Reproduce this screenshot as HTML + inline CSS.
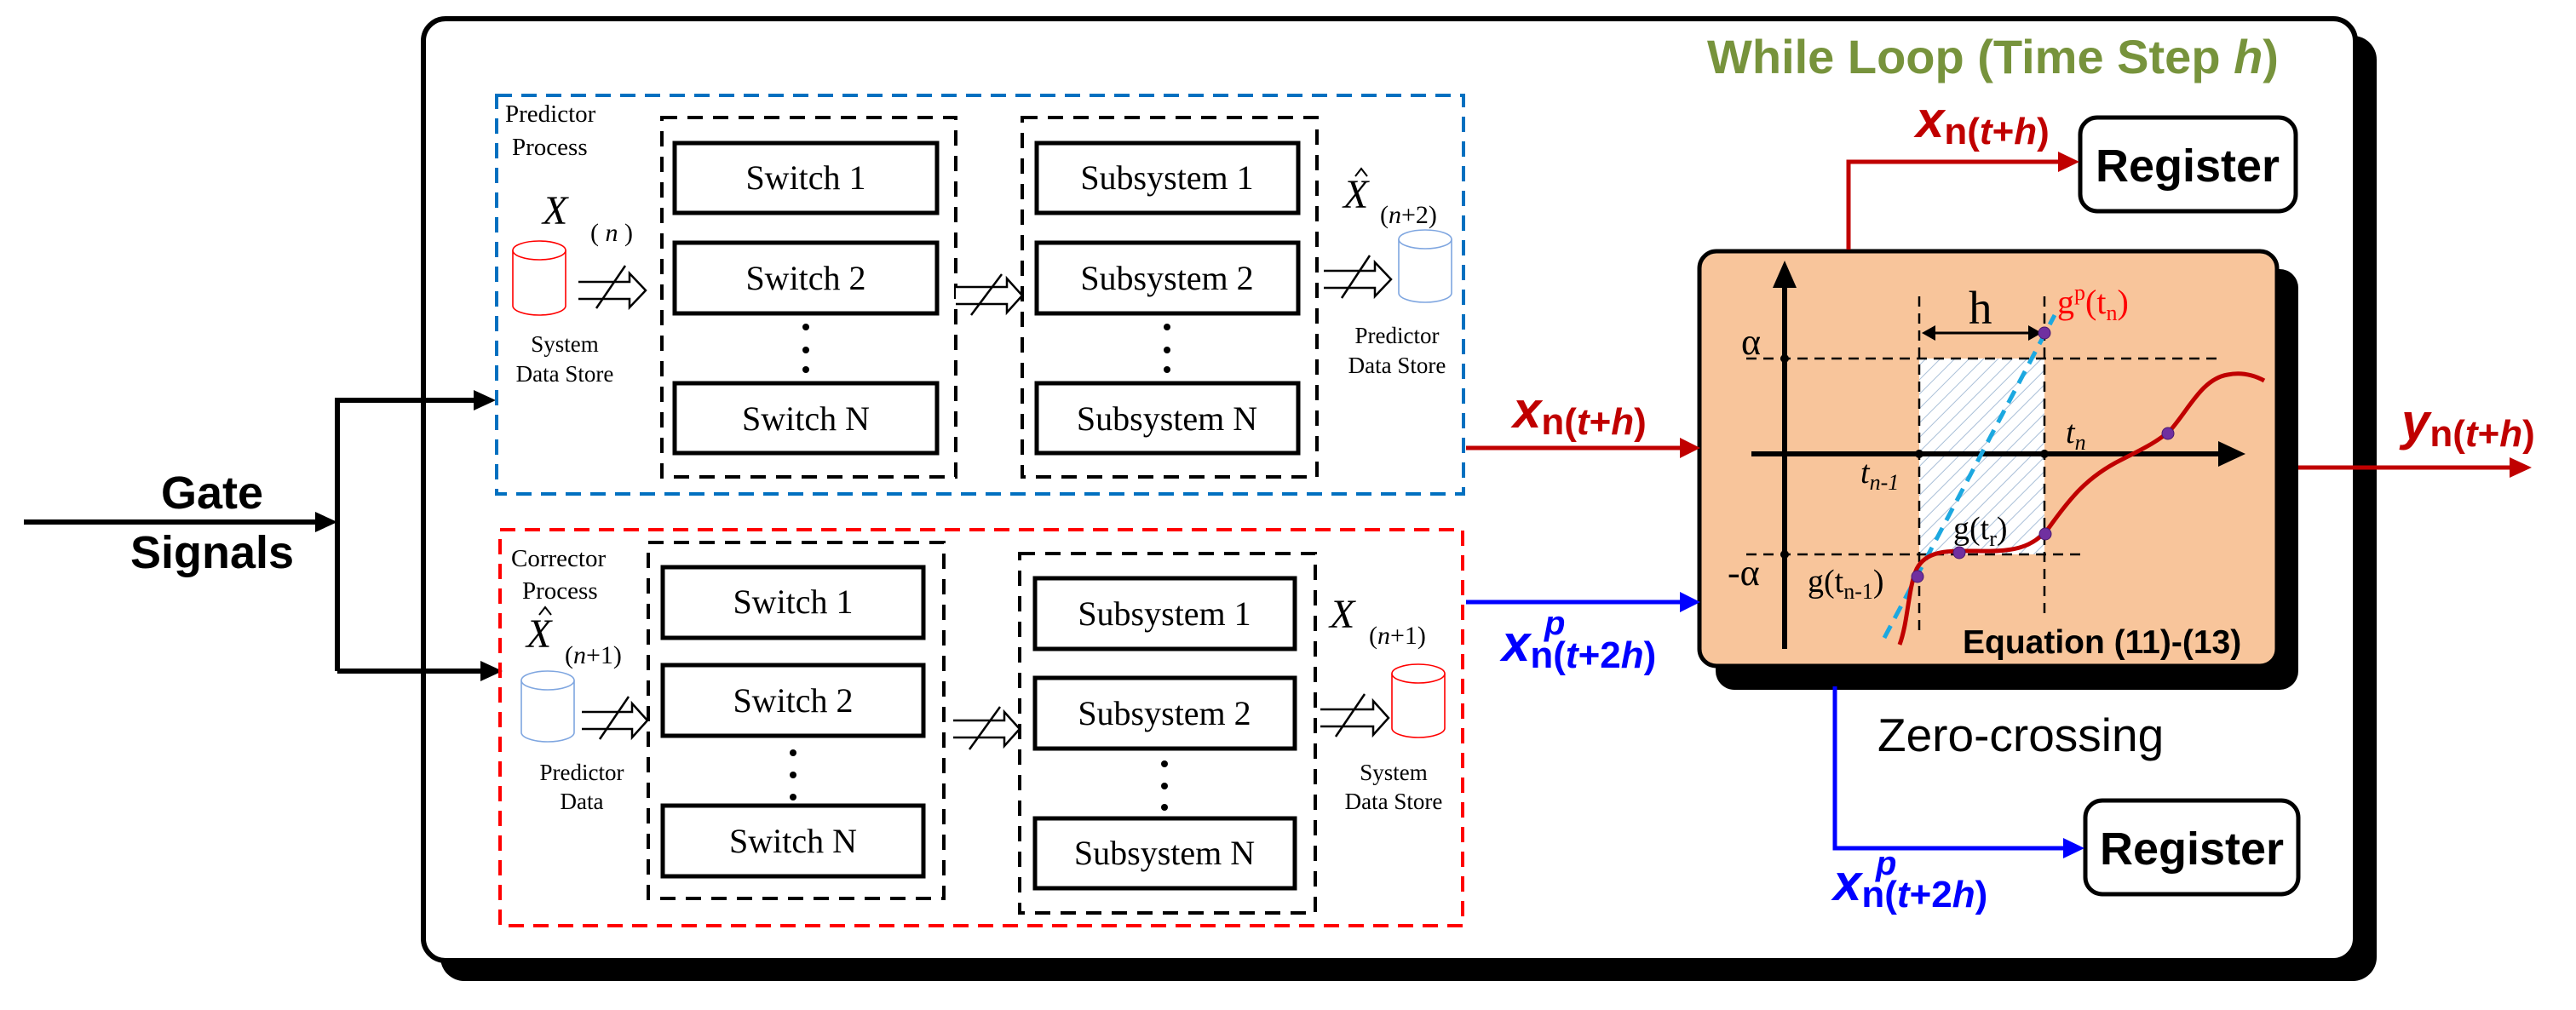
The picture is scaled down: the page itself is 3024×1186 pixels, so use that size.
<!DOCTYPE html>
<html><head><meta charset="utf-8"><style>
html,body{margin:0;padding:0;background:#fff;}
svg{display:block;}
.tm{font-family:"Liberation Serif",serif;}
.ar{font-family:"Liberation Sans",sans-serif;}
</style></head><body>
<svg width="3024" height="1186" viewBox="0 0 3024 1186" xmlns="http://www.w3.org/2000/svg">
<defs>
<pattern id="hatch" width="12" height="12" patternUnits="userSpaceOnUse" patternTransform="rotate(45)"><rect width="12" height="12" fill="#fff"/><line x1="0" y1="0" x2="0" y2="12" stroke="#a9bfd8" stroke-width="2"/></pattern>
</defs>

<!-- main while loop box -->
<rect x="517" y="42" width="2273" height="1110" rx="28" fill="#000"/>
<rect x="497" y="22" width="2268" height="1106" rx="26" fill="#fff" stroke="#000" stroke-width="6"/>
<text x="2004" y="86" class="ar" font-size="56" font-weight="bold" fill="#77933C">While Loop (Time Step <tspan font-style="italic">h</tspan>)</text>

<!-- Gate signals -->
<text x="249" y="597" class="ar" font-size="54" font-weight="bold" text-anchor="middle">Gate</text>
<text x="249" y="667" class="ar" font-size="54" font-weight="bold" text-anchor="middle">Signals</text>
<g stroke="#000" stroke-width="6" fill="none">
<line x1="28" y1="613" x2="375" y2="613"/>
<polyline points="396,788 396,470 560,470"/>
<line x1="396" y1="788" x2="568" y2="788"/>
</g>
<path d="M370,601 L396,613 L370,625z" fill="#000"/>
<path d="M556,458 L582,470 L556,482z" fill="#000"/>
<path d="M564,776 L590,788 L564,800z" fill="#000"/>

<!-- Predictor box -->
<rect x="583" y="112" width="1135" height="468" fill="none" stroke="#0070C0" stroke-width="4" stroke-dasharray="18,11"/>
<text x="593" y="143" class="tm" font-size="29">Predictor</text>
<text x="601" y="182" class="tm" font-size="29">Process</text>
<text x="637" y="263" class="tm" font-size="48" font-style="italic">X</text>
<text x="693" y="283" class="tm" font-size="30">( <tspan font-style="italic">n</tspan> )</text>
<g fill="#fff" stroke="#f00" stroke-width="1.6">
<path d="M602,294 L602,359 A31,11 0 0 0 664,359 L664,294"/>
<ellipse cx="633" cy="294" rx="31" ry="11"/>
</g>
<text x="663" y="413" class="tm" font-size="27" text-anchor="middle">System</text>
<text x="663" y="448" class="tm" font-size="27" text-anchor="middle">Data Store</text>

<g stroke="#000" stroke-width="4" fill="none" stroke-dasharray="18,12">
<rect x="777" y="138" width="345" height="422"/>
<rect x="1200" y="138" width="346" height="422"/>
</g>
<g stroke="#000" stroke-width="5" fill="#fff">
<rect x="792" y="168" width="308" height="82"/>
<rect x="792" y="285" width="308" height="83"/>
<rect x="792" y="450" width="308" height="82"/>
<rect x="1217" y="168" width="307" height="82"/>
<rect x="1217" y="285" width="307" height="83"/>
<rect x="1217" y="450" width="307" height="82"/>
</g>
<g class="tm" font-size="40" text-anchor="middle">
<text x="946" y="222">Switch 1</text>
<text x="946" y="340">Switch 2</text>
<text x="946" y="505">Switch N</text>
<text x="1370" y="222">Subsystem 1</text>
<text x="1370" y="340">Subsystem 2</text>
<text x="1370" y="505">Subsystem N</text>
</g>
<g fill="#000">
<circle cx="946" cy="384" r="4"/><circle cx="946" cy="411" r="4"/><circle cx="946" cy="434" r="4"/>
<circle cx="1370" cy="384" r="4"/><circle cx="1370" cy="411" r="4"/><circle cx="1370" cy="434" r="4"/>
</g>
<text x="1577" y="244" class="tm" font-size="48" font-style="italic">X</text>
<path d="M1591,207 L1598,198 L1605,207" fill="none" stroke="#000" stroke-width="2"/>
<text x="1620" y="262" class="tm" font-size="30">(<tspan font-style="italic">n</tspan>+2)</text>
<g fill="#fff" stroke="#7fa6e0" stroke-width="1.6">
<path d="M1642,281 L1642,344 A31,11 0 0 0 1704,344 L1704,281"/>
<ellipse cx="1673" cy="281" rx="31" ry="11"/>
</g>
<text x="1640" y="403" class="tm" font-size="27" text-anchor="middle">Predictor</text>
<text x="1640" y="438" class="tm" font-size="27" text-anchor="middle">Data Store</text>

<!-- Corrector box -->
<rect x="587" y="622" width="1130" height="465" fill="none" stroke="#f00" stroke-width="4" stroke-dasharray="18,11"/>
<text x="600" y="665" class="tm" font-size="29">Corrector</text>
<text x="613" y="703" class="tm" font-size="29">Process</text>
<text x="618" y="760" class="tm" font-size="48" font-style="italic">X</text>
<path d="M633,722 L640,713 L647,722" fill="none" stroke="#000" stroke-width="2"/>
<text x="663" y="779" class="tm" font-size="30">(<tspan font-style="italic">n</tspan>+1)</text>
<g fill="#fff" stroke="#7fa6e0" stroke-width="1.6">
<path d="M612,799 L612,860 A31,11 0 0 0 674,860 L674,799"/>
<ellipse cx="643" cy="799" rx="31" ry="11"/>
</g>
<text x="683" y="916" class="tm" font-size="27" text-anchor="middle">Predictor</text>
<text x="683" y="950" class="tm" font-size="27" text-anchor="middle">Data</text>

<g stroke="#000" stroke-width="4" fill="none" stroke-dasharray="18,12">
<rect x="761" y="637" width="347" height="418"/>
<rect x="1197" y="650" width="347" height="422"/>
</g>
<g stroke="#000" stroke-width="5" fill="#fff">
<rect x="778" y="666" width="306" height="83"/>
<rect x="778" y="781" width="306" height="83"/>
<rect x="778" y="946" width="306" height="83"/>
<rect x="1215" y="679" width="305" height="83"/>
<rect x="1215" y="796" width="305" height="83"/>
<rect x="1215" y="961" width="305" height="82"/>
</g>
<g class="tm" font-size="40" text-anchor="middle">
<text x="931" y="720">Switch 1</text>
<text x="931" y="836">Switch 2</text>
<text x="931" y="1001">Switch N</text>
<text x="1367" y="734">Subsystem 1</text>
<text x="1367" y="851">Subsystem 2</text>
<text x="1367" y="1015">Subsystem N</text>
</g>
<g fill="#000">
<circle cx="931" cy="884" r="4"/><circle cx="931" cy="910" r="4"/><circle cx="931" cy="936" r="4"/>
<circle cx="1367" cy="897" r="4"/><circle cx="1367" cy="923" r="4"/><circle cx="1367" cy="948" r="4"/>
</g>
<text x="1561" y="737" class="tm" font-size="48" font-style="italic">X</text>
<text x="1607" y="756" class="tm" font-size="30">(<tspan font-style="italic">n</tspan>+1)</text>
<g fill="#fff" stroke="#f00" stroke-width="1.6">
<path d="M1634,791 L1634,855 A31,11 0 0 0 1696,855 L1696,791"/>
<ellipse cx="1665" cy="791" rx="31" ry="11"/>
</g>
<text x="1636" y="916" class="tm" font-size="27" text-anchor="middle">System</text>
<text x="1636" y="950" class="tm" font-size="27" text-anchor="middle">Data Store</text>

<!-- double-line "not equal" arrows -->
<g stroke="#000" stroke-width="2.5" fill="#fff">
<path d="M679,331 L739,331 L739,321 L758,341 L739,361 L739,351 L679,351"/>
<line x1="700" y1="362" x2="734" y2="312"/>
<path d="M1122,337 L1182,337 L1182,327 L1200,347 L1182,367 L1182,357 L1122,357"/>
<line x1="1140" y1="370" x2="1176" y2="322"/>
<path d="M1554,318 L1614,318 L1614,308 L1633,328 L1614,348 L1614,338 L1554,338"/>
<line x1="1575" y1="350" x2="1608" y2="300"/>
<path d="M683,836 L742,836 L742,826 L760,846 L742,866 L742,856 L683,856"/>
<line x1="704" y1="868" x2="738" y2="818"/>
<path d="M1119,846 L1179,846 L1179,836 L1197,856 L1179,876 L1179,866 L1119,866"/>
<line x1="1138" y1="880" x2="1174" y2="830"/>
<path d="M1550,833 L1612,833 L1612,823 L1630,843 L1612,863 L1612,853 L1550,853"/>
<line x1="1568" y1="865" x2="1602" y2="815"/>
</g>

<!-- graph box -->
<rect x="2014" y="316" width="684" height="494" rx="22" fill="#000"/>
<rect x="1995" y="295" width="678" height="487" rx="20" fill="#F8C59B" stroke="#000" stroke-width="5"/>
<rect x="2253" y="421" width="147" height="230" fill="url(#hatch)"/>
<g stroke="#000" stroke-width="2.5" stroke-dasharray="12,8" fill="none">
<line x1="2050" y1="421" x2="2602" y2="421"/>
<line x1="2050" y1="651" x2="2448" y2="651"/>
<line x1="2253" y1="348" x2="2253" y2="743"/>
<line x1="2400" y1="348" x2="2400" y2="720"/>
</g>
<g stroke="#000" stroke-width="6">
<line x1="2095" y1="762" x2="2095" y2="330"/>
<line x1="2056" y1="533" x2="2610" y2="533"/>
</g>
<path d="M2081,338 L2095,306 L2109,338z" fill="#000"/>
<path d="M2604,518 L2636,533 L2604,548z" fill="#000"/>
<g stroke="#000" stroke-width="3"><line x1="2262" y1="391" x2="2391" y2="391"/></g>
<path d="M2256,391 L2272,382 L2272,400z M2397,391 L2381,382 L2381,400z" fill="#000"/>
<g fill="#000"><circle cx="2095" cy="421" r="5"/><circle cx="2095" cy="651" r="5"/><circle cx="2253" cy="533" r="5"/><circle cx="2400" cy="533" r="5"/></g>
<line x1="2212" y1="749" x2="2412" y2="370" stroke="#1CA8E0" stroke-width="5" stroke-dasharray="16,10"/>
<path d="M2230,757 C2240,730 2240,690 2250,668 C2262,645 2290,647 2320,647 C2360,648 2385,645 2405,620 C2430,585 2450,560 2490,540 C2520,525 2535,517 2548,505 C2570,480 2585,445 2615,440 C2630,437 2645,440 2658,447" fill="none" stroke="#C00000" stroke-width="5"/>
<g fill="#7030A0" stroke="#4a1a70" stroke-width="1"><circle cx="2400" cy="391" r="7"/><circle cx="2251" cy="677" r="7"/><circle cx="2300" cy="649" r="7"/><circle cx="2401" cy="627" r="7"/><circle cx="2545" cy="509" r="7"/></g>
<g class="tm">
<text x="2044" y="416" font-size="44">α</text>
<text x="2028" y="687" font-size="44">-α</text>
<text x="2311" y="380" font-size="55">h</text>
<text x="2415" y="368" font-size="40" fill="#f00">g<tspan font-size="26" dy="-16">p</tspan><tspan dy="16">(t</tspan><tspan font-size="26" dy="8">n</tspan><tspan dy="-8">)</tspan></text>
<text x="2425" y="520" font-size="38" font-style="italic">t<tspan font-size="26" dy="8">n</tspan></text>
<text x="2184" y="567" font-size="38" font-style="italic">t<tspan font-size="26" dy="8">n-1</tspan></text>
<text x="2293" y="633" font-size="38">g(t<tspan font-size="26" dy="8">r</tspan><tspan dy="-8">)</tspan></text>
<text x="2122" y="695" font-size="38">g(t<tspan font-size="26" dy="8">n-1</tspan><tspan dy="-8">)</tspan></text>
</g>
<text x="2304" y="767" class="ar" font-size="39" font-weight="bold">Equation (11)-(13)</text>
<text x="2204" y="882" class="ar" font-size="55">Zero-crossing</text>

<!-- registers -->
<rect x="2442" y="138" width="253" height="110" rx="20" fill="#fff" stroke="#000" stroke-width="5"/>
<text x="2568" y="213" class="ar" font-size="54" font-weight="bold" text-anchor="middle">Register</text>
<rect x="2448" y="940" width="250" height="110" rx="20" fill="#fff" stroke="#000" stroke-width="5"/>
<text x="2573" y="1015" class="ar" font-size="54" font-weight="bold" text-anchor="middle">Register</text>

<!-- connectors right -->
<g stroke="#C00000" stroke-width="5" fill="none">
<line x1="1721" y1="526" x2="1975" y2="526"/>
<polyline points="2170,293 2170,190 2420,190"/>
<line x1="2698" y1="549" x2="2950" y2="549"/>
</g>
<path d="M1972,514 L1996,526 L1972,538z M2416,178 L2441,190 L2416,202z M2946,537 L2972,549 L2946,561z" fill="#C00000"/>
<g stroke="#0000FF" stroke-width="5" fill="none">
<line x1="1721" y1="707" x2="1975" y2="707"/>
<polyline points="2154,806 2154,996 2425,996"/>
</g>
<path d="M1972,695 L1996,707 L1972,719z M2422,984 L2447,996 L2422,1008z" fill="#0000FF"/>

<g class="ar" font-weight="bold">
<text x="2249" y="161" font-size="60" fill="#C00000" font-style="italic">x<tspan font-style="normal" font-size="44" dy="8">n(</tspan><tspan font-size="44">t</tspan><tspan font-style="normal" font-size="44">+</tspan><tspan font-size="44">h</tspan><tspan font-style="normal" font-size="44">)</tspan></text>
<text x="1776" y="502" font-size="60" fill="#C00000" font-style="italic">x<tspan font-style="normal" font-size="44" dy="8">n(</tspan><tspan font-size="44">t</tspan><tspan font-style="normal" font-size="44">+</tspan><tspan font-size="44">h</tspan><tspan font-style="normal" font-size="44">)</tspan></text>
<text x="2819" y="516" font-size="60" fill="#C00000" font-style="italic">y<tspan font-style="normal" font-size="44" dy="8">n(</tspan><tspan font-size="44">t</tspan><tspan font-style="normal" font-size="44">+</tspan><tspan font-size="44">h</tspan><tspan font-style="normal" font-size="44">)</tspan></text>
<text x="1763" y="776" font-size="60" fill="#0000FF" font-style="italic">x<tspan font-style="normal" font-size="44" dy="8">n(</tspan><tspan font-size="44">t</tspan><tspan font-style="normal" font-size="44">+2</tspan><tspan font-size="44">h</tspan><tspan font-style="normal" font-size="44">)</tspan></text>
<text x="1813" y="745" font-size="40" fill="#0000FF" font-style="italic">p</text>
<text x="2152" y="1057" font-size="60" fill="#0000FF" font-style="italic">x<tspan font-style="normal" font-size="44" dy="8">n(</tspan><tspan font-size="44">t</tspan><tspan font-style="normal" font-size="44">+2</tspan><tspan font-size="44">h</tspan><tspan font-style="normal" font-size="44">)</tspan></text>
<text x="2202" y="1027" font-size="40" fill="#0000FF" font-style="italic">p</text>
</g>
</svg>
</body></html>
